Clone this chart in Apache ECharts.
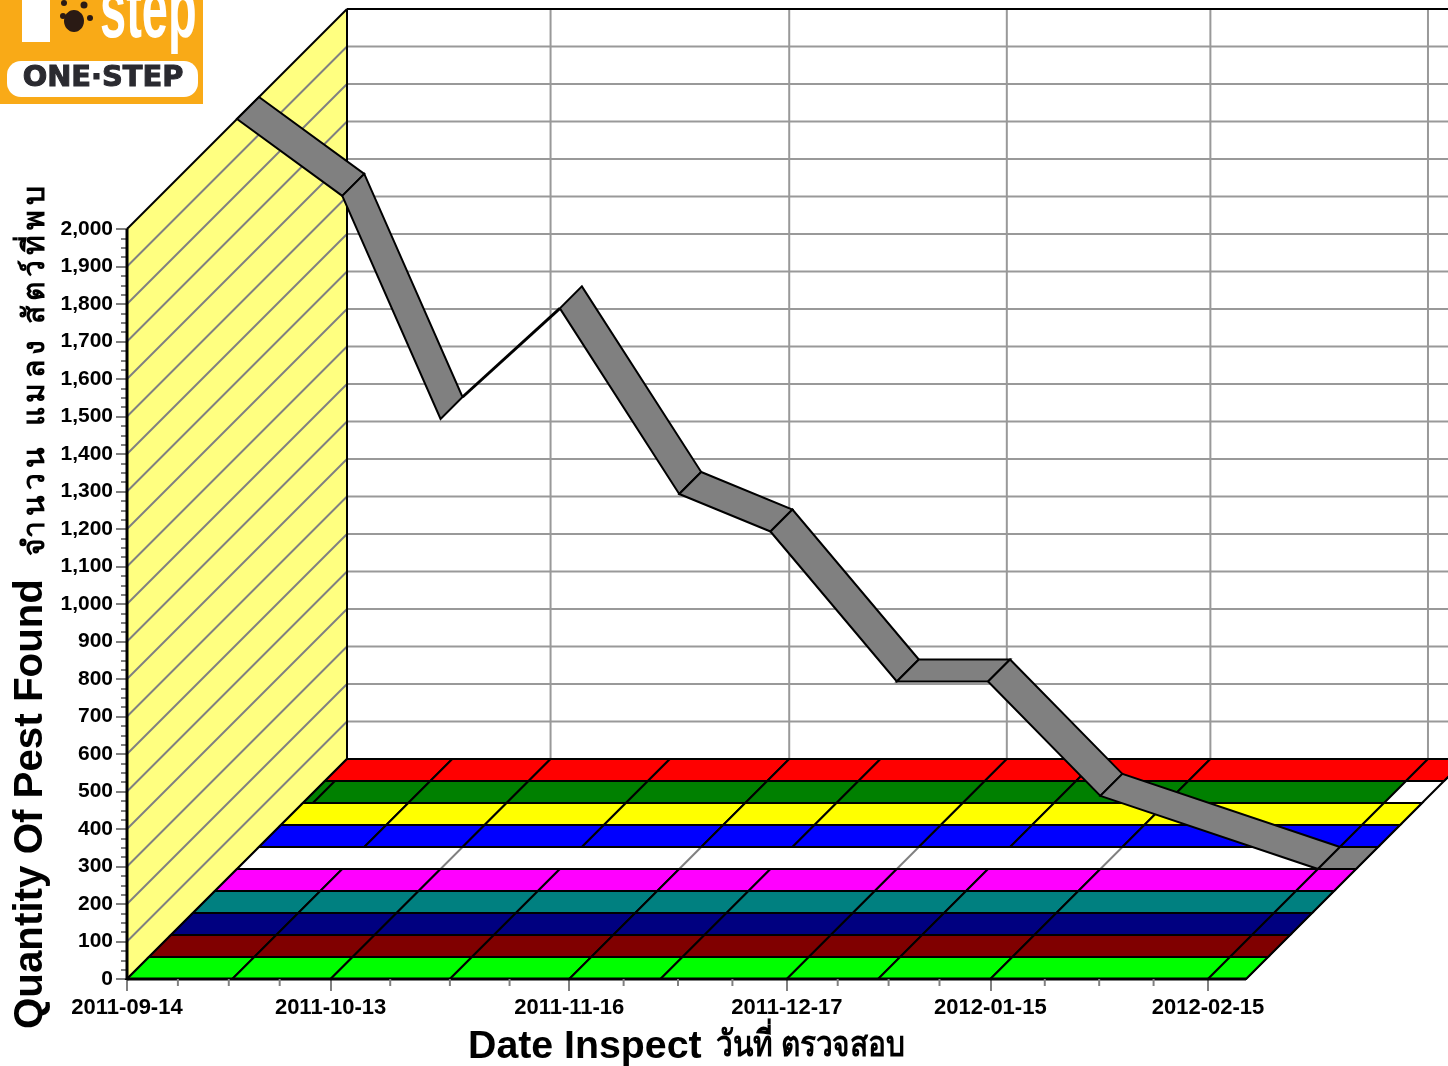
<!DOCTYPE html>
<html>
  <head>
    <meta charset="utf-8">
    <title>Pest Found</title>
    <script src="https://cdn.jsdelivr.net/npm/echarts@6/dist/echarts.min.js"></script>
    <style>
      html, body { margin: 0; padding: 0; background: #fff; overflow: hidden; }
      #main { width: 1448px; height: 1066px; }
    </style>
  </head>
  <body>
    <div id="main"></div>
    <script type="text/javascript">
      // data
      var inspectDates = ['2011-09-14', '2011-09-29', '2011-10-13', '2011-10-30', '2011-11-16', '2011-11-29', '2011-12-17', '2011-12-30', '2012-01-15', '2012-02-15', '2012-02-20T10:00:00'];
      var greenDates = ['2011-09-14', '2011-09-15T10:00:00', '2011-09-29', '2011-10-13', '2011-10-30', '2011-11-16', '2011-11-29', '2011-12-17', '2011-12-30', '2012-01-15', '2012-02-15'];
      var pestValues = [2000, 1795, 1200, 1495, 1000, 900, 500, 500, 195, 0, 0];
      var limeValues = [0, 0, 0, 0, 0, 0, 0, 0, 0, 0, 0];
      var maroonValues = [0, 0, 0, 0, 0, 0, 0, 0, 0, 0, 0];
      var navyValues = [0, 0, 0, 0, 0, 0, 0, 0, 0, 0, 0];
      var tealValues = [0, 0, 0, 0, 0, 0, 0, 0, 0, 0, 0];
      var magentaValues = [0, 0, 0, 0, 0, 0, 0, 0, 0, 0, 0];
      var blueValues = [0, 0, 0, 0, 0, 0, 0, 0, 0, 0, 0];
      var yellowValues = [0, 0, 0, 0, 0, 0, 0, 0, 0, 0, 0];
      var greenValues = [0, 0, 0, 0, 0, 0, 0, 0, 0, 0, 0];
      var redValues = [0, 0, 0, 0, 0, 0, 0, 0, 0, 0, 0];
      var dateTicks = ['2011-09-14', '2011-10-13', '2011-11-16', '2011-12-17', '2012-01-15', '2012-02-15'];
      var gridValues = [100, 200, 300, 400, 500, 600, 700, 800, 900, 1000, 1100, 1200, 1300, 1400, 1500, 1600, 1700, 1800, 1900, 2000];

      var font = '"Liberation Sans", Arial, sans-serif';
      var thaiFont = '"Noto Sans", "DejaVu Sans", sans-serif';
      var depthStep = 22;   // px per series along the depth axis
      var depthCount = 10;
      var yMax = 2000;

      function ts(d) {
        return +new Date(d.length > 10 ? d : d + 'T00:00:00');
      }
      var xMin = ts(inspectDates[0]);
      var xMax = ts(inspectDates[inspectDates.length - 1]);
      var tickStamps = dateTicks.map(ts);

      // front plane point moved back along the depth axis
      function proj(api, t, v, depth) {
        var p = api.coord([t, v]);
        return [p[0] + depth * depthStep, p[1] - depth * depthStep];
      }
      function line(a, b, color, width) {
        return {
          type: 'line', silent: true,
          shape: { x1: a[0], y1: a[1], x2: b[0], y2: b[1] },
          style: { stroke: color, lineWidth: width, fill: null }
        };
      }
      function poly(points, fill, width) {
        return {
          type: 'polygon', silent: true,
          shape: { points: points },
          style: { fill: fill, stroke: '#000', lineWidth: width, lineJoin: 'miter' }
        };
      }

      // walls
      function renderWalls(params, api) {
        var kids = [];
        kids.push({
          type: 'polygon', silent: true,
          shape: { points: [proj(api, xMin, 0, 0), proj(api, xMin, yMax, 0), proj(api, xMin, yMax, depthCount), proj(api, xMin, 0, depthCount)] },
          style: { fill: '#ffff80', stroke: null }
        });
        gridValues.forEach(function (v) {
          if (v < yMax) kids.push(line(proj(api, xMin, v, 0), proj(api, xMin, v, depthCount), '#808080', 2));
          if (v < yMax) kids.push(line(proj(api, xMin, v, depthCount), proj(api, xMax, v, depthCount), '#999', 2));
        });
        tickStamps.forEach(function (t, i) {
          if (i > 0) kids.push(line(proj(api, t, 0, depthCount), proj(api, t, yMax, depthCount), '#999', 2));
        });
        kids.push(line(proj(api, xMin, 0, 0), proj(api, xMin, 0, depthCount), '#000', 2));
        kids.push(line(proj(api, xMin, yMax, 0), proj(api, xMin, yMax, depthCount), '#000', 2));
        kids.push(line(proj(api, xMin, 0, depthCount), proj(api, xMin, yMax, depthCount), '#000', 2));
        kids.push(line(proj(api, xMin, yMax, depthCount), proj(api, xMax, yMax, depthCount), '#000', 2));
        return { type: 'group', children: kids };
      }

      // floor under the stripes: white, grey date lines only show on the empty stripes
      function renderFloor(params, api) {
        var kids = [{
          type: 'polygon', silent: true,
          shape: { points: [proj(api, xMin, 0, 0), proj(api, xMax, 0, 0), proj(api, xMax, 0, depthCount), proj(api, xMin, 0, depthCount)] },
          style: { fill: '#fff', stroke: '#000', lineWidth: 2 }
        }];
        tickStamps.forEach(function (t, i) {
          if (i > 0) kids.push(line(proj(api, t, 0, 0), proj(api, t, 0, depthCount), '#808080', 2));
        });
        return { type: 'group', children: kids };
      }

      // one ribbon segment per pair of points, zero values lie flat as a floor stripe
      function renderSegment(color, depth) {
        return function (params, api) {
          var t1 = api.value(0), v1 = api.value(1), t2 = api.value(2), v2 = api.value(3);
          var f1 = proj(api, t1, v1, depth), f2 = proj(api, t2, v2, depth);
          var b1 = proj(api, t1, v1, depth + 1), b2 = proj(api, t2, v2, depth + 1);
          // rising segment is seen from behind: only its edge is left
          if (v2 > v1) {
            return line(b1, f2, '#000', 3);
          }
          return poly([f1, f2, b2, b1], color, 2);
        };
      }
      function segments(dates, values) {
        var rows = [];
        for (var i = 0; i < dates.length - 1; i++) {
          rows.push([ts(dates[i]), values[i], ts(dates[i + 1]), values[i + 1]]);
        }
        return rows;
      }
      function stripe(name, depth, color, dates, values) {
        return {
          name: name, type: 'custom', z: 3 + (depthCount - depth),
          coordinateSystem: 'cartesian2d', clip: false, silent: true,
          renderItem: renderSegment(color, depth),
          encode: { x: [0, 2], y: [1, 3] },
          data: segments(dates, values)
        };
      }

      // front edges on top of the stripes, short ticks between the dated ones
      function renderFront(params, api) {
        var kids = [
          line(proj(api, xMin, 0, 0), proj(api, xMin, yMax, 0), '#000', 3),
          line(proj(api, xMin, 0, 0), proj(api, xMax, 0, 0), '#000', 3)
        ];
        for (var i = 0; i < tickStamps.length - 1; i++) {
          for (var q = 1; q < 4; q++) {
            var p = api.coord([tickStamps[i] + (tickStamps[i + 1] - tickStamps[i]) * q / 4, 0]);
            kids.push(line([p[0], p[1]], [p[0], p[1] + 7], '#808080', 2));
          }
        }
        return { type: 'group', children: kids };
      }

      var single = [[xMin, 0]];
      var series = [
        { name: 'walls', type: 'custom', z: 1, coordinateSystem: 'cartesian2d', clip: false, silent: true, renderItem: renderWalls, data: single },
        { name: 'floor', type: 'custom', z: 2, coordinateSystem: 'cartesian2d', clip: false, silent: true, renderItem: renderFloor, data: single },
        stripe('red', 9, '#ff0000', inspectDates, redValues),
        stripe('green', 8, '#008000', greenDates, greenValues),
        stripe('yellow', 7, '#ffff00', inspectDates, yellowValues),
        stripe('blue', 6, '#0000ff', inspectDates, blueValues),
        stripe('pest', 5, '#808080', inspectDates, pestValues),
        stripe('magenta', 4, '#ff00ff', inspectDates, magentaValues),
        stripe('teal', 3, '#008080', inspectDates, tealValues),
        stripe('navy', 2, '#000080', inspectDates, navyValues),
        stripe('maroon', 1, '#800000', inspectDates, maroonValues),
        stripe('lime', 0, '#00ff00', inspectDates, limeValues),
        { name: 'front', type: 'custom', z: 20, coordinateSystem: 'cartesian2d', clip: false, silent: true, renderItem: renderFront, data: single }
      ];

      var logo = [
        { type: 'rect', z: 30, shape: { x: 0, y: 0, width: 203, height: 104 }, style: { fill: '#f9aa17' } },
        { type: 'rect', z: 31, shape: { x: 22, y: 0, width: 28, height: 42 }, style: { fill: '#fff' } },
        { type: 'text', z: 31, x: 100, y: 56, scaleX: 0.56, style: { text: 'step', fill: '#fff', font: 'bold 84px ' + font, textVerticalAlign: 'bottom' } },
        { type: 'ellipse', z: 32, shape: { cx: 74, cy: 21, rx: 10, ry: 11 }, style: { fill: '#2a1a14' } },
        { type: 'circle', z: 32, shape: { cx: 63, cy: 16, r: 3 }, style: { fill: '#2a1a14' } },
        { type: 'circle', z: 32, shape: { cx: 90, cy: 18, r: 3 }, style: { fill: '#2a1a14' } },
        { type: 'circle', z: 32, shape: { cx: 84, cy: 5, r: 3.5 }, style: { fill: '#2a1a14' } },
        { type: 'circle', z: 32, shape: { cx: 64, cy: 3, r: 3 }, style: { fill: '#2a1a14' } },
        { type: 'rect', z: 31, shape: { x: 7, y: 61, width: 191, height: 36, r: 14 }, style: { fill: '#fff' } },
        { type: 'text', z: 32, x: 103, y: 79, scaleX: 1.03, style: { text: 'ONE·STEP', fill: '#2a2a30', stroke: '#2a2a30', lineWidth: 1, font: 'bold 28px "DejaVu Sans", sans-serif', textAlign: 'center', textVerticalAlign: 'middle' } }
      ];
      var titles = [
        { type: 'text', z: 30, x: 468, y: 1047, style: { text: 'Date Inspect', fill: '#000', font: 'bold 39.3px ' + font, textVerticalAlign: 'middle' } },
        { type: 'text', z: 30, x: 716, y: 1046, scaleX: 0.83, style: { text: 'วันที่ ตรวจสอบ', fill: '#000', font: 'bold 36px ' + thaiFont, textVerticalAlign: 'middle' } },
        { type: 'text', z: 30, x: 31, y: 1029, rotation: Math.PI / 2, style: { text: 'Quantity Of Pest Found', fill: '#000', font: 'bold 40.3px ' + font, textVerticalAlign: 'middle' } },
        { type: 'text', z: 30, x: 35, y: 556, rotation: Math.PI / 2, style: { text: 'จำ\u2009น\u2009ว\u2009น  \u2009แ\u2009ม\u2009ล\u2009ง  สั\u2009ต\u2009ว์\u2009ที่\u2009พ\u2009บ', fill: '#000', font: 'bold 30px ' + thaiFont, textVerticalAlign: 'middle' } }
      ];

      var myChart = echarts.init(document.getElementById('main'), null, { renderer: 'canvas' });
      myChart.setOption({
        animation: false,
        backgroundColor: '#fff',
        grid: { left: 127, right: 202, top: 229, bottom: 87 },
        xAxis: {
          type: 'value', min: xMin, max: xMax,
          splitLine: { show: false },
          axisLine: { show: false },
          axisTick: { show: true, customValues: tickStamps, length: 12, lineStyle: { color: '#808080', width: 2 } },
          axisLabel: {
            customValues: tickStamps, margin: 18, hideOverlap: false,
            color: '#000', fontFamily: font, fontWeight: 'bold', fontSize: 22,
            formatter: function (v) { return echarts.time.format(v, '{yyyy}-{MM}-{dd}', false); }
          }
        },
        yAxis: {
          type: 'value', min: 0, max: yMax, interval: 100,
          splitLine: { show: false },
          axisLine: { show: true, lineStyle: { color: '#000', width: 3 } },
          axisTick: { show: true, length: 11, lineStyle: { color: '#808080', width: 2 } },
          minorTick: { show: true, splitNumber: 4, length: 6, lineStyle: { color: '#808080', width: 2 } },
          axisLabel: {
            margin: 14, color: '#000', fontFamily: font, fontWeight: 'bold', fontSize: 21,
            formatter: function (v) { return v >= 1000 ? Math.floor(v / 1000) + ',' + ('00' + (v % 1000)).slice(-3) : '' + v; }
          }
        },
        series: series,
        graphic: { elements: logo.concat(titles) }
      });
    </script>
  </body>
</html>
